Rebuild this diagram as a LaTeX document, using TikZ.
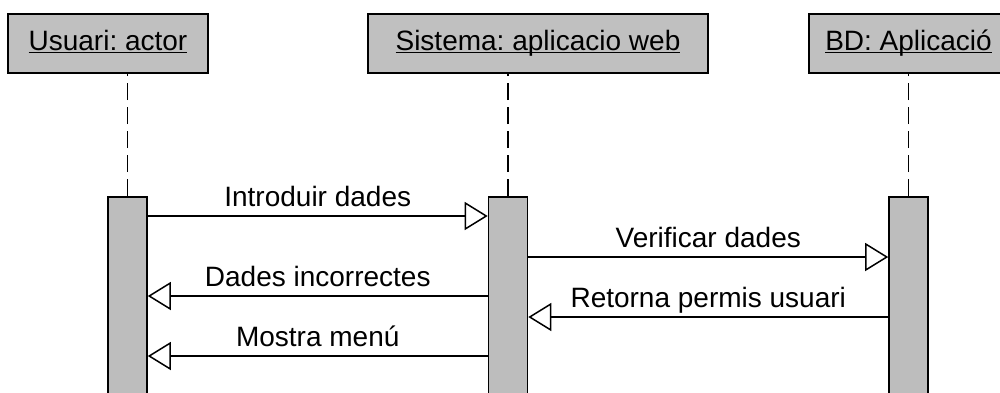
\documentclass[tikz,border=0pt]{standalone}
\usepackage{fontspec}
\setmainfont{Liberation Sans}
\usepackage{tikz}
\usetikzlibrary{arrows.meta,positioning}
\frenchspacing
\definecolor{boxgray}{HTML}{C0C0C0}
\definecolor{bargray}{HTML}{BDBDBD}
\newcommand{\objname}[1]{\underline{\raisebox{0pt}[\height][0pt]{#1}}}
\tikzset{
	every node/.style={font=\fontsize{28}{34}\selectfont},
	object/.style={draw, line width=2pt, fill=boxgray, minimum height=59pt, inner sep=0pt, text depth=6pt},
	activation/.style={draw, line width=1.6pt, fill=bargray, minimum width=39pt, minimum height=220pt, inner sep=0pt, anchor=north},
	lifeline/.style={line width=1.5pt, dash pattern=on 17pt off 7pt}, % dashed line under each object
	msg/.style={line width=1.5pt, -{Triangle[open, length=23pt, width=28pt]}}, % open arrow head
	msglabel/.style={above, text depth=0pt, inner sep=9pt},
}
\begin{document}
\begin{tikzpicture}[x=1pt, y=-1pt]
	\useasboundingbox (0,0) rectangle (1000,392);
	\clip (0,0) rectangle (1000,392);

	\node[object, minimum width=200pt] (usuari)  at (108,43.5)   {\objname{Usuari: actor}};
	\node[object, minimum width=340pt] (sistema) at (538,43.5)   {\objname{Sistema: aplicacio web}};
	\node[object, minimum width=199pt] (bd)      at (908.5,43.5) {\objname{BD: Aplicació}};

	\node[activation] (actU) at (127.5,196) {};
	\node[activation] (actS) at (508,196)   {};
	\node[activation] (actB) at (908.5,196) {};

	\draw[lifeline] (actU.north) -- (actU.north |- usuari.south);
	\draw[lifeline] (actS.north) -- (actS.north |- sistema.south);
	\draw[lifeline] (actB.north) -- (actB.north |- bd.south);

	\draw[msg] (actU.east |- 0,216) -- node[msglabel]{Introduir dades}       (actS.west |- 0,216);
	\draw[msg] (actS.east |- 0,257) -- node[msglabel]{Verificar dades}       (actB.west |- 0,257);
	\draw[msg] (actS.west |- 0,296) -- node[msglabel]{Dades incorrectes}     (actU.east |- 0,296);
	\draw[msg] (actB.west |- 0,317) -- node[msglabel]{Retorna permis usuari} (actS.east |- 0,317);
	\draw[msg] (actS.west |- 0,356) -- node[msglabel]{Mostra menú}           (actU.east |- 0,356);
\end{tikzpicture}
\end{document}
